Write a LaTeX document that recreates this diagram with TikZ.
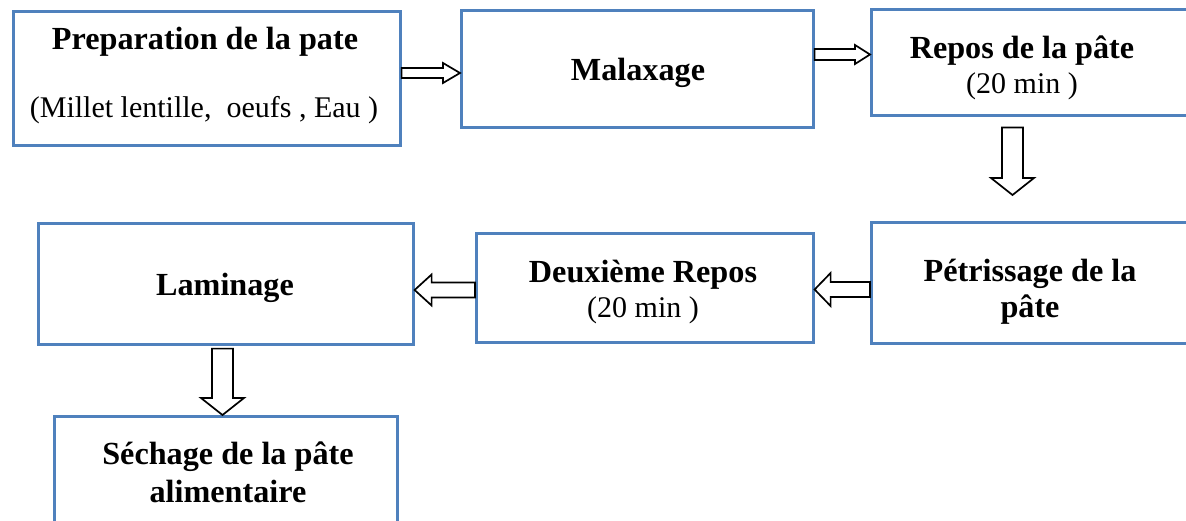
\documentclass[tikz,border=0pt]{standalone}
\usepackage{fontspec}
\setmainfont{Liberation Serif}
\usetikzlibrary{calc}

\definecolor{boxblue}{RGB}{79,129,189}

\tikzset{
  stagebox/.style={draw=boxblue, line width=2.6pt, fill=white, rectangle,
    anchor=north west, inner sep=0pt},
  stagetext/.style={anchor=base, inner sep=0pt, font=\fontsize{32.2}{36}\selectfont\bfseries},
  notetext/.style={anchor=base, inner sep=0pt, font=\fontsize{30}{36}\selectfont},
  blockarrow/.style={draw=black, fill=white, line width=1.7pt, line join=miter},
}

% hollow block arrow: #1 tail, #2 tip, #3 shaft half-width, #4 head half-width, #5 head length
\newcommand\blockarrow[5]{%
  \path #1 coordinate (ba-t) #2 coordinate (ba-h);
  \path ($(ba-h)!#5!(ba-t)$) coordinate (ba-b);
  \draw[blockarrow]
    ($(ba-t)!#3!90:(ba-h)$) -- ($(ba-b)!#3!90:(ba-h)$) --
    ($(ba-b)!#4!90:(ba-h)$) -- (ba-h) --
    ($(ba-b)!#4!-90:(ba-h)$) -- ($(ba-b)!#3!-90:(ba-h)$) --
    ($(ba-t)!#3!-90:(ba-h)$) -- cycle;
}

\begin{document}
\begin{tikzpicture}[x=1pt, y=-1pt]
  \useasboundingbox (0,0) rectangle (1186,521);

  % process stages
  \node[stagebox, minimum width=387pt, minimum height=134pt] (prep)  at (12,10)  {};
  \node[stagebox, minimum width=352pt, minimum height=117pt] (malax) at (460,9)  {};
  \node[stagebox, minimum width=340pt, minimum height=106pt] (repos) at (870,8)  {};
  \node[stagebox, minimum width=340pt, minimum height=121pt] (petri) at (870,221) {};
  \node[stagebox, minimum width=337pt, minimum height=109pt] (deux)  at (475,232) {};
  \node[stagebox, minimum width=375pt, minimum height=121pt] (lamin) at (37,222)  {};
  \node[stagebox, minimum width=343pt, minimum height=130pt] (sech)  at (53,415)  {};

  % stage labels
  \node[stagetext] (t-prep)  at (205,50)  {Preparation de la pate};
  \node[notetext]  (t-prepn) at (204,118) {(Millet lentille,\ \ oeufs , Eau )};
  \node[stagetext] (t-malax) at (638,81)  {Malaxage};
  \node[stagetext] (t-repos) at (1022,59) {Repos de la pâte};
  \node[notetext]  (t-repon) at (1022,94) {(20 min )};
  \node[stagetext] (t-petr1) at (1030,282) {Pétrissage de la};
  \node[stagetext] (t-petr2) at (1030,318) {pâte};
  \node[stagetext] (t-deux)  at (643,283) {Deuxième Repos};
  \node[notetext]  (t-deuxn) at (643,317) {(20 min )};
  \node[stagetext] (t-lamin) at (225,296) {Laminage};
  \node[stagetext] (t-sech1) at (228,464) {Séchage de la pâte};
  \node[stagetext] (t-sech2) at (228,502) {alimentaire};

  % arrow levels
  \coordinate (r1) at (0,73);
  \coordinate (r2) at (0,54.5);
  \coordinate (r3) at (0,289.5);
  \coordinate (r4) at (0,290);
  \coordinate (d1) at (1012.5,0);
  \coordinate (d2) at (222.5,0);

  % flow arrows
  \blockarrow{(prep.east |- r1)}{(malax.west |- r1)}{5pt}{10pt}{17pt}
  \blockarrow{(malax.east |- r2)}{(repos.west |- r2)}{5.5pt}{9.5pt}{15pt}
  \blockarrow{($(repos.south -| d1)+(0,11)$)}{($(petri.north -| d1)+(0,-26)$)}{10.5pt}{21.5pt}{17pt}
  \blockarrow{(petri.west |- r3)}{(deux.east |- r3)}{7.5pt}{16.5pt}{16pt}
  \blockarrow{(deux.west |- r4)}{(lamin.east |- r4)}{7.5pt}{15.5pt}{17pt}
  \blockarrow{($(lamin.south -| d2)+(0,3)$)}{(sech.north -| d2)}{10.5pt}{21.5pt}{17pt}
\end{tikzpicture}
\end{document}
